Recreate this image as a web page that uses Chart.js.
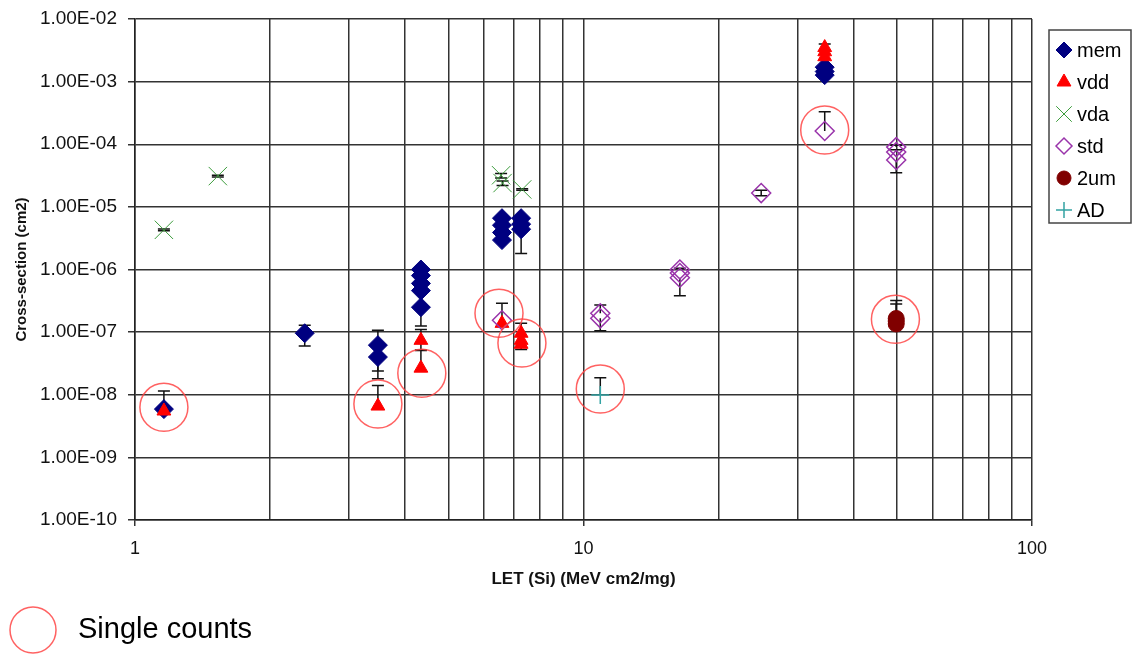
<!DOCTYPE html>
<html>
<head>
<meta charset="utf-8">
<script src="https://cdn.jsdelivr.net/npm/chart.js@4/dist/chart.umd.min.js"></script>
<style>
  body { margin: 0; background: #fff; }
  #wrap { width: 1132px; height: 654px; }
</style>
</head>
<body>
<div id="wrap"><canvas id="chart" width="1132" height="654"></canvas></div>
<script>
// LET (MeV cm2/mg) and cross-section (cm2) per series, with error bar ends
const memLet   = [1.16, 2.39, 3.48, 3.48, 4.34, 4.34, 4.34, 4.34, 4.34, 6.58, 6.58, 6.58, 6.58, 7.26, 7.26, 7.26, 34.5, 34.5, 34.5];
const memSigma = [5.9e-9, 9.6e-8, 6.2e-8, 4.0e-8, 1.0e-6, 8.0e-7, 6.0e-7, 4.6e-7, 2.5e-7, 6.6e-6, 5.1e-6, 3.9e-6, 2.95e-6, 6.6e-6, 5.3e-6, 4.4e-6, 1.7e-3, 1.45e-3, 1.27e-3];
const memHi    = [1.15e-8, 1.29e-7, 1.07e-7, null, null, null, null, null, null, null, null, null, null, null, null, null, null, null, null];
const memLo    = [null, 6.0e-8, 2.4e-8, 1.8e-8, null, null, null, null, 1.25e-7, null, null, null, null, null, null, 1.8e-6, null, null, null];

const vddLet   = [1.16, 3.48, 4.34, 4.34, 6.58, 7.26, 7.26, 7.26, 34.5, 34.5, 34.5];
const vddSigma = [5.5e-9, 6.6e-9, 7.4e-8, 2.66e-8, 1.38e-7, 9.6e-8, 7.4e-8, 6.4e-8, 3.5e-3, 3.0e-3, 2.5e-3];
const vddHi    = [null, 1.4e-8, 1.1e-7, 5.2e-8, 2.9e-7, 1.38e-7, null, null, 4.0e-3, null, null];
const vddLo    = [null, null, 5.1e-8, null, null, null, null, 5.3e-8, null, null, null];

const vdaLet   = [1.16, 1.53, 6.55, 6.6, 7.3];
const vdaSigma = [4.3e-6, 3.1e-5, 3.2e-5, 2.4e-5, 1.9e-5];
const vdaHi    = [4.45e-6, 3.2e-5, 3.4e-5, 2.6e-5, 1.95e-5];
const vdaLo    = [4.15e-6, 3.0e-5, 2.9e-5, 2.2e-5, 1.85e-5];

const stdLet   = [6.58, 10.9, 10.9, 16.4, 16.4, 16.4, 24.9, 34.5, 49.8, 49.8, 49.8];
const stdSigma = [1.55e-7, 2.0e-7, 1.66e-7, 1.0e-6, 8.8e-7, 7.4e-7, 1.66e-5, 1.63e-4, 9.0e-5, 7.5e-5, 5.6e-5];
const stdHi    = [null, 2.7e-7, null, 1.05e-6, null, null, 1.85e-5, 3.3e-4, 9.6e-5, 8.2e-5, null];
const stdLo    = [null, null, 1.05e-7, null, null, 3.8e-7, 1.5e-5, null, null, null, 3.5e-5];

const umLet    = [49.8, 49.8, 49.8];
const umSigma  = [1.65e-7, 1.5e-7, 1.35e-7];
const umHi     = [3.2e-7, 2.8e-7, null];
const umLo     = [null, null, null];

const adLet    = [10.9];
const adSigma  = [9.9e-9];
const adHi     = [1.86e-8];
const adLo     = [null];

// points marked as single counts
const singleLet   = [1.16, 3.48, 4.36, 6.48, 7.29, 10.9, 34.5, 49.6];
const singleSigma = [6.3e-9, 7.1e-9, 2.2e-8, 2.0e-7, 6.7e-8, 1.23e-8, 1.69e-4, 1.6e-7];

const yTickValues = [1e-10, 1e-9, 1e-8, 1e-7, 1e-6, 1e-5, 1e-4, 1e-3, 1e-2];
const yTickLabels = ['1.00E-10', '1.00E-09', '1.00E-08', '1.00E-07', '1.00E-06', '1.00E-05', '1.00E-04', '1.00E-03', '1.00E-02'];
const xTickValues = [1, 10, 100];
const xTickLabels = ['1', '10', '100'];

const FONT = 'Arial, "Liberation Sans", sans-serif';

function pts(xs, ys) {
  return xs.map((x, i) => ({ x: x, y: ys[i] }));
}

function series(label, xs, ys, hi, lo, style) {
  return Object.assign({
    label: label,
    data: pts(xs, ys),
    errHi: hi,
    errLo: lo,
    showLine: false
  }, style);
}

const datasets = [
  series('mem', memLet, memSigma, memHi, memLo, {
    pointStyle: 'rectRot', pointRadius: 9.5, backgroundColor: '#000080', borderColor: '#000080', borderWidth: 1, order: 6
  }),
  series('vdd', vddLet, vddSigma, vddHi, vddLo, {
    pointStyle: 'triangle', pointRadius: 8, backgroundColor: '#ff0000', borderColor: '#ff0000', borderWidth: 1, order: 5
  }),
  series('vda', vdaLet, vdaSigma, vdaHi, vdaLo, {
    pointStyle: 'crossRot', pointRadius: 13, backgroundColor: 'rgba(0,0,0,0)', borderColor: '#3c9c3c', borderWidth: 1, order: 4
  }),
  series('std', stdLet, stdSigma, stdHi, stdLo, {
    pointStyle: 'rectRot', pointRadius: 9.5, backgroundColor: 'rgba(0,0,0,0)', borderColor: '#9933aa', borderWidth: 1.5, order: 3
  }),
  series('2um', umLet, umSigma, umHi, umLo, {
    pointStyle: 'circle', pointRadius: 8, backgroundColor: '#800000', borderColor: '#800000', borderWidth: 1, order: 2
  }),
  series('AD', adLet, adSigma, adHi, adLo, {
    pointStyle: 'cross', pointRadius: 9, backgroundColor: 'rgba(0,0,0,0)', borderColor: '#33a3a3', borderWidth: 1.5, order: 1
  }),
  {
    label: 'Single counts',
    data: pts(singleLet, singleSigma),
    pointStyle: 'circle', pointRadius: 24, backgroundColor: 'rgba(0,0,0,0)', borderColor: 'rgba(255,70,70,0.85)', borderWidth: 1.5, order: 0
  }
];

// error bars drawn behind the markers
const errorBars = {
  id: 'errorBars',
  beforeDatasetsDraw(chart) {
    const ctx = chart.ctx, ys = chart.scales.y;
    ctx.save();
    ctx.strokeStyle = '#111';
    ctx.lineWidth = 1.5;
    chart.data.datasets.forEach((ds, i) => {
      if (!ds.errHi) return;
      chart.getDatasetMeta(i).data.forEach((pt, j) => {
        const y0 = ys.getPixelForValue(ds.data[j].y);
        [ds.errHi[j], ds.errLo[j]].forEach(e => {
          if (e == null) return;
          const ye = ys.getPixelForValue(e);
          ctx.beginPath();
          ctx.moveTo(pt.x, y0);
          ctx.lineTo(pt.x, ye);
          ctx.moveTo(pt.x - 6, ye);
          ctx.lineTo(pt.x + 6, ye);
          ctx.stroke();
        });
      });
    });
    ctx.restore();
  }
};

// boxed legend on the right and the "Single counts" note below
const sideLegend = {
  id: 'sideLegend',
  afterDraw(chart) {
    const ctx = chart.ctx;
    ctx.save();
    ctx.strokeStyle = '#444';
    ctx.lineWidth = 1.5;
    ctx.strokeRect(1049, 30, 82, 193);
    ctx.font = '20px ' + FONT;
    ctx.textBaseline = 'middle';
    chart.data.datasets.slice(0, 6).forEach((ds, i) => {
      const y = 50 + i * 32;
      ctx.fillStyle = ds.backgroundColor;
      ctx.strokeStyle = ds.borderColor;
      ctx.lineWidth = ds.borderWidth;
      const r = ds.pointStyle === 'crossRot' ? 11 : (ds.pointStyle === 'circle' ? 7 : 8);
      Chart.helpers.drawPoint(ctx, { pointStyle: ds.pointStyle, radius: r, borderWidth: ds.borderWidth, rotation: 0 }, 1064, y);
      ctx.fillStyle = '#000';
      ctx.fillText(ds.label, 1077, y + 1);
    });

    const sc = chart.data.datasets[6];
    ctx.beginPath();
    ctx.strokeStyle = sc.borderColor;
    ctx.lineWidth = 1.5;
    ctx.arc(33, 630, 23, 0, Math.PI * 2);
    ctx.stroke();
    ctx.fillStyle = '#000';
    ctx.font = '29px ' + FONT;
    ctx.fillText(sc.label, 78, 630);
    ctx.restore();
  }
};

const ctx = document.getElementById('chart').getContext('2d');
const chart = new Chart(ctx, {
  type: 'scatter',
  data: { datasets: datasets },
  options: {
    responsive: false,
    animation: false,
    layout: { autoPadding: false, padding: { top: 19, right: 100, bottom: 60, left: 0 } },
    plugins: {
      legend: { display: false },
      tooltip: { enabled: false }
    },
    scales: {
      x: {
        type: 'logarithmic',
        min: 1,
        max: 100,
        afterBuildTicks(scale) {
          const t = [];
          for (let d = 1; d < 100; d *= 10) {
            for (let k = 1; k < 10; k++) t.push({ value: k * d });
          }
          t.push({ value: 100 });
          scale.ticks = t;
        },
        afterFit(scale) { scale.height = 74; },
        ticks: {
          autoSkip: false,
          maxRotation: 0,
          padding: 12,
          color: '#111',
          font: { family: FONT, size: 18 },
          callback(v) {
            const i = xTickValues.indexOf(v);
            return i >= 0 ? xTickLabels[i] : '';
          }
        },
        grid: {
          color: '#333',
          lineWidth: 1.5,
          tickLength: 6,
          tickColor: c => (c.tick && xTickValues.includes(c.tick.value)) ? '#333' : 'rgba(0,0,0,0)'
        },
        border: { display: true, color: '#222', width: 1.5 },
        title: {
          display: true,
          text: 'LET (Si) (MeV cm2/mg)',
          color: '#111',
          font: { family: FONT, size: 17, weight: 'bold' },
          padding: { top: 4, bottom: 4 }
        }
      },
      y: {
        type: 'logarithmic',
        min: 1e-10,
        max: 1e-2,
        afterBuildTicks(scale) {
          scale.ticks = yTickValues.map(v => ({ value: v }));
        },
        afterFit(scale) {
          scale.width = 135;
          scale.paddingTop = 0;
          scale.paddingBottom = 0;
        },
        ticks: {
          padding: 11,
          color: '#111',
          font: { family: FONT, size: 19 },
          callback(v) {
            const i = yTickValues.findIndex(t => Math.abs(t - v) / t < 1e-6);
            return i >= 0 ? yTickLabels[i] : '';
          }
        },
        grid: { color: '#333', lineWidth: 1.5, tickLength: 7 },
        border: { display: true, color: '#222', width: 1.5 },
        title: {
          display: true,
          text: 'Cross-section (cm2)',
          color: '#111',
          font: { family: FONT, size: 15, weight: 'bold' },
          padding: { top: 13, bottom: 0 }
        }
      }
    }
  },
  plugins: [errorBars, sideLegend]
});
</script>
</body>
</html>
